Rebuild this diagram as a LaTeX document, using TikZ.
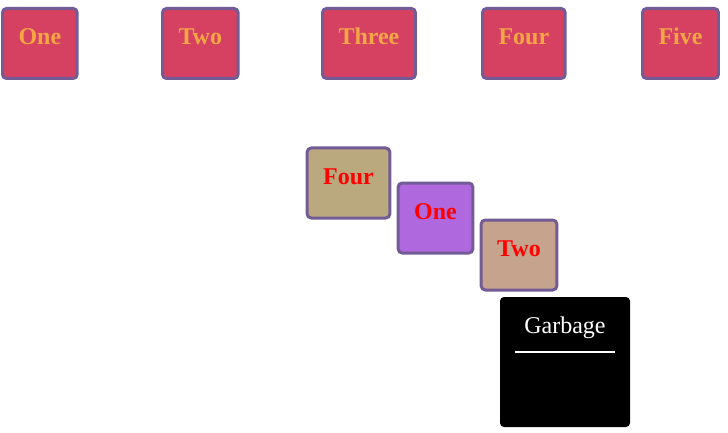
\documentclass[tikz,border=0pt]{standalone}
\usepackage{fontspec}
\setmainfont{Liberation Serif}
\usetikzlibrary{positioning}
\definecolor{boxedge}{RGB}{115,92,150}
\definecolor{slotfill}{RGB}{214,65,98}
\definecolor{slottext}{RGB}{245,166,68}
\definecolor{fourfill}{RGB}{186,168,126}
\definecolor{onefill}{RGB}{176,104,222}
\definecolor{twofill}{RGB}{197,163,140}

\begin{document}
\begin{tikzpicture}[
			x=1pt, y=1pt,
			every node/.style={font=\fontsize{24}{28}\selectfont},
			%% Node styles
			slot/.style={rectangle, draw=boxedge, line width=3pt,
				rounded corners=4pt, fill=slotfill, text=slottext,
				font=\fontsize{24}{28}\selectfont\bfseries,
				inner xsep=16pt, minimum height=70pt,
				text height=16pt, text depth=13pt},
			item/.style={slot, text=red},
			bin/.style={rectangle, fill=black, rounded corners=4pt,
				minimum width=130pt, minimum height=130pt},
			bintitle/.style={text=white, anchor=base},
			]
			
			%% canvas
			\useasboundingbox (0,0) rectangle (728,-433);
			
			%% ── Top row ─────────────────────────────────────────────
			\node[slot, anchor=west] (one)   at (1,-43.5)   {One};
			\node[slot, anchor=west] (two)   at (161,-43.5) {Two};
			\node[slot, anchor=west] (three) at (321,-43.5) {Three};
			\node[slot, anchor=west] (four)  at (481,-43.5) {Four};
			\node[slot, anchor=west] (five)  at (641,-43.5) {Five};
			
			%% ── Stacked items ───────────────────────────────────────
			\node[item, fill=fourfill] (itemfour) at (348.5,-183) {Four};
			\node[item, fill=onefill]  (itemone)  at (435.5,-218) {One};
			\node[item, fill=twofill]  (itemtwo)  at (519,-255)   {Two};
			
			%% ── Garbage ─────────────────────────────────────────────
			\node[bin] (garbage) at (565,-362) {};
			\node[bintitle] (garbagetitle) at ([yshift=-37]garbage.north) {Garbage};
			\draw[white, line width=1.5pt]
			([shift={(-50,-55)}]garbage.north) -- ([shift={(50,-55)}]garbage.north);
			
		\end{tikzpicture}
\end{document}
